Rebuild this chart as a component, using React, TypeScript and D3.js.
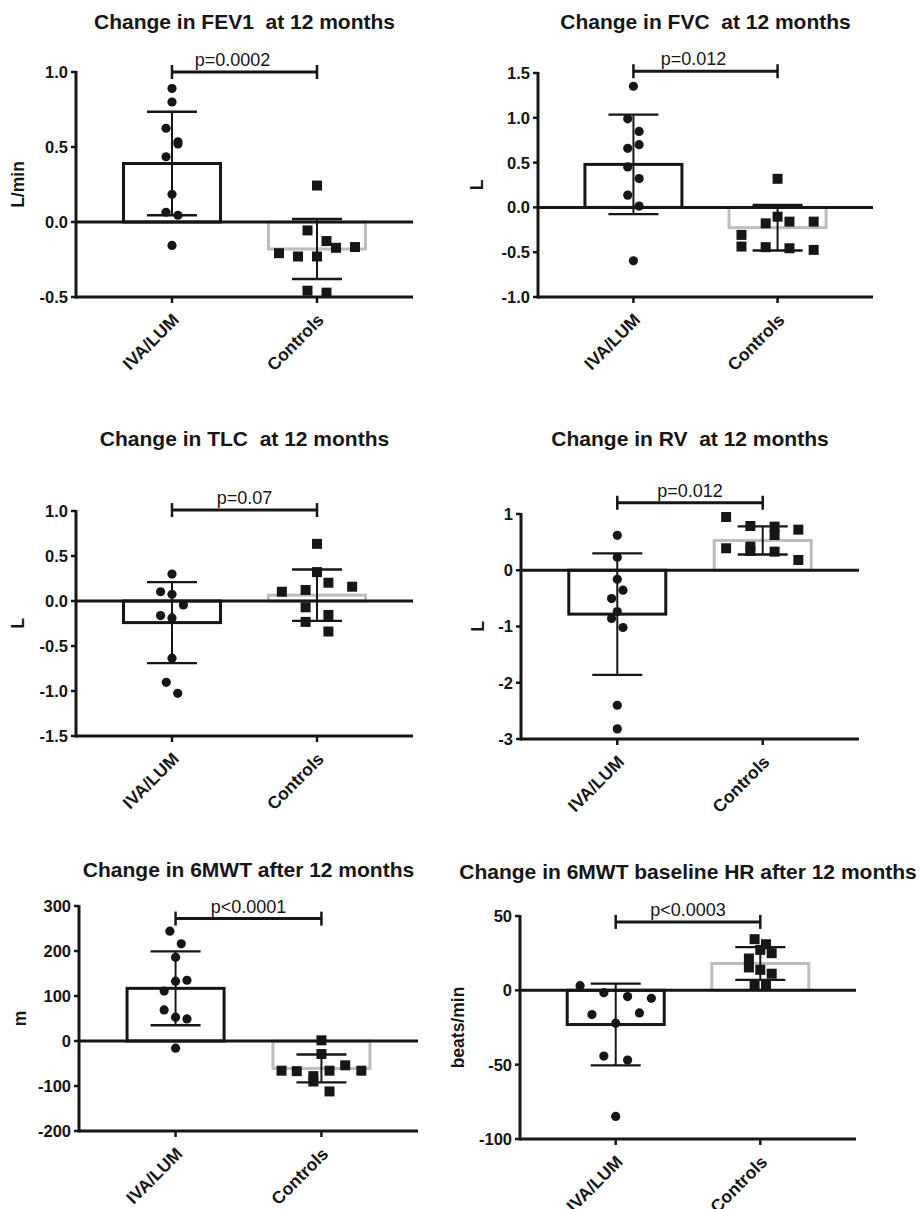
import React from "react";
import * as d3 from "d3";

// ---------- data ----------
const categories = ["IVA/LUM", "Controls"];

const panelTitles = [
  "Change in FEV1  at 12 months",
  "Change in FVC  at 12 months",
  "Change in TLC  at 12 months",
  "Change in RV  at 12 months",
  "Change in 6MWT after 12 months",
  "Change in 6MWT baseline HR after 12 months",
];
const yAxisLabels = ["L/min", "L", "L", "L", "m", "beats/min"];
const pValueLabels = ["p=0.0002", "p=0.012", "p=0.07", "p=0.012", "p<0.0001", "p<0.0003"];
const bracketLevels = [1.0, 1.52, 1.01, 1.2, 272, 46];

const yDomains: [number, number][] = [
  [-0.5, 1.0],
  [-1.0, 1.5],
  [-1.5, 1.0],
  [-3, 1],
  [-200, 300],
  [-100, 50],
];
const yTickValues = [
  [-0.5, 0, 0.5, 1.0],
  [-1.0, -0.5, 0, 0.5, 1.0, 1.5],
  [-1.5, -1.0, -0.5, 0, 0.5, 1.0],
  [-3, -2, -1, 0, 1],
  [-200, -100, 0, 100, 200, 300],
  [-100, -50, 0, 50],
];
const yTickLabels = [
  ["-0.5", "0.0", "0.5", "1.0"],
  ["-1.0", "-0.5", "0.0", "0.5", "1.0", "1.5"],
  ["-1.5", "-1.0", "-0.5", "0.0", "0.5", "1.0"],
  ["-3", "-2", "-1", "0", "1"],
  ["-200", "-100", "0", "100", "200", "300"],
  ["-100", "-50", "0", "50"],
];

// group means and SDs [IVA/LUM, Controls]
const groupMeans = [
  [0.39, -0.18],
  [0.48, -0.226],
  [-0.24, 0.065],
  [-0.78, 0.53],
  [117, -61],
  [-23, 18],
];
const groupSDs = [
  [0.345, 0.2],
  [0.555, 0.255],
  [0.45, 0.285],
  [1.08, 0.25],
  [82, 31],
  [27.5, 11],
];

// individual values
const fev1Iva = [0.89, 0.8, 0.625, 0.535, 0.52, 0.435, 0.185, 0.065, 0.045, -0.156];
const fev1IvaSpread = [0, 0, -0.63, 0.63, 0.63, -0.63, 0, -0.63, 0.63, 0];
const fev1Ctrl = [0.243, -0.056, -0.127, -0.172, -0.167, -0.208, -0.23, -0.23, -0.458, -0.471];
const fev1CtrlSpread = [0, -1, 1, 2, 4, -4, -2, 0, -1, 1];

const fvcIva = [1.352, 0.989, 0.848, 0.7, 0.659, 0.452, 0.322, 0.137, 0.015, -0.596];
const fvcIvaSpread = [0, -0.6, 0.6, 0.6, -0.6, -0.6, 0.6, -0.6, 0.6, 0];
const fvcCtrl = [0.319, -0.104, -0.178, -0.159, -0.159, -0.307, -0.437, -0.444, -0.456, -0.474];
const fvcCtrlSpread = [0, 0, -1.25, 1.25, 3.8, -3.8, -3.8, -1.25, 1.25, 3.8];

const tlcIva = [0.299, 0.103, 0.074, -0.044, -0.162, -0.188, -0.635, -0.904, -1.026];
const tlcIvaSpread = [0, -1.2, 0, 1.2, -1.2, 0, 0, -0.6, 0.6];
const tlcCtrl = [0.635, 0.321, 0.203, 0.159, 0.103, 0.122, -0.07, -0.155, -0.232, -0.339];
const tlcCtrlSpread = [0, 0, 1.2, 3.7, -3.7, -1.2, -1.2, 1.2, -1.2, 1.2];

const rvIva = [0.621, 0.231, -0.16, -0.355, -0.503, -0.734, -0.858, -1.018, -2.4, -2.82];
const rvIvaSpread = [0, 0, 0, 0.6, -0.6, 0, -0.6, 0.6, 0, 0];
const rvCtrl = [0.947, 0.787, 0.775, 0.627, 0.722, 0.391, 0.42, 0.343, 0.331, 0.183];
const rvCtrlSpread = [-3.85, -1.3, 1.25, 1.25, 3.75, -3.85, -1.3, -1.3, 1.25, 3.75];

const mwtIva = [244, 216, 186, 133, 135, 111, 69, 53, 49, -16];
const mwtIvaSpread = [-0.6, 0.6, 0, 0, 1.2, -1.2, -1.2, 0, 1.2, 0];
const mwtCtrl = [1.5, -29, -66, -67, -78, -90, -66, -54, -66, -112];
const mwtCtrlSpread = [0, 0, -4.2, -2.6, -0.85, -0.85, 0.85, 2.5, 4.2, 0.85];

const hrIva = [3.1, -1.6, -4.2, -5.4, -16.3, -15.2, -22.1, -44.2, -46.9, -84.8];
const hrIvaSpread = [-3.75, -1.25, 1.25, 3.75, -2.5, 2.5, 0, -1.25, 1.25, 0];
const hrCtrl = [34.4, 31.0, 27.2, 25.0, 21.4, 15.4, 13.8, 11.2, 3.1, 3.1];
const hrCtrlSpread = [-0.6, 0.6, 0, 1.2, -1.2, -1.2, 0, 1.2, -0.6, 0.6];

const ivaValues = [fev1Iva, fvcIva, tlcIva, rvIva, mwtIva, hrIva];
const ivaSpreads = [fev1IvaSpread, fvcIvaSpread, tlcIvaSpread, rvIvaSpread, mwtIvaSpread, hrIvaSpread];
const ctrlValues = [fev1Ctrl, fvcCtrl, tlcCtrl, rvCtrl, mwtCtrl, hrCtrl];
const ctrlSpreads = [fev1CtrlSpread, fvcCtrlSpread, tlcCtrlSpread, rvCtrlSpread, mwtCtrlSpread, hrCtrlSpread];

// ---------- layout (not data) ----------
const layouts = [
  { axisX: 76, top: 72, bottom: 297, right: 413, titleY: 29, yLabelX: 18, pShift: -12 },
  { axisX: 538, top: 73, bottom: 297, right: 873, titleY: 29, yLabelX: 477, pShift: -12 },
  { axisX: 76, top: 511, bottom: 736, right: 413, titleY: 446, yLabelX: 18, pShift: 0 },
  { axisX: 521, top: 514, bottom: 739, right: 859, titleY: 446, yLabelX: 478, pShift: 0 },
  { axisX: 79, top: 906, bottom: 1131, right: 418, titleY: 877, yLabelX: 20, pShift: 0 },
  { axisX: 520, top: 916, bottom: 1139, right: 856, titleY: 879, yLabelX: 458, pShift: 0 },
];

const FONT = "'Liberation Sans', Arial, Helvetica, sans-serif";
const INK = "#161616";
const GRAY = "#bdbdbd";
const SPREAD_UNIT = 9.5;
const BAR_W = 97;
const CAP_HALF = 25;

function Panel({ i }: { i: number }) {
  const L = layouts[i];
  const y = d3.scaleLinear().domain(yDomains[i]).range([L.bottom, L.top]);
  const x = d3.scalePoint<string>().domain(categories).range([L.axisX, L.right]).padding(0.662);
  const y0 = y(0);
  const cx0 = x(categories[0])!;
  const cx1 = x(categories[1])!;
  const midX = (cx0 + cx1) / 2;
  const by = y(bracketLevels[i]);
  const circle = d3.symbol().type(d3.symbolCircle).size(Math.PI * 4.6 * 4.6);
  const square = d3.symbol().type(d3.symbolSquare).size(10 * 10);

  return (
    <g>
      <text
        x={midX}
        y={L.titleY}
        textAnchor="middle"
        fontFamily={FONT}
        fontWeight="bold"
        fontSize={21}
        fill={INK}
        style={{ whiteSpace: "pre" }}
      >
        {panelTitles[i]}
      </text>
      {/* y label */}
      <text
        transform={`translate(${L.yLabelX},${(L.top + L.bottom) / 2}) rotate(-90)`}
        dy="0.36em"
        textAnchor="middle"
        fontFamily={FONT}
        fontWeight="bold"
        fontSize={17.5}
        fill={INK}
      >
        {yAxisLabels[i]}
      </text>
      {/* bars */}
      {categories.map((c, k) => {
        const m = groupMeans[i][k];
        const yTop = Math.min(y(m), y0);
        const h = Math.abs(y(m) - y0);
        return (
          <rect
            key={c}
            x={x(c)! - BAR_W / 2}
            y={yTop}
            width={BAR_W}
            height={h}
            fill="white"
            stroke={k === 0 ? INK : GRAY}
            strokeWidth={3}
          />
        );
      })}
      {/* y axis */}
      <line x1={L.axisX} x2={L.axisX} y1={L.top - 1} y2={L.bottom + 1.5} stroke={INK} strokeWidth={3} />
      {yTickValues[i].map((v, k) => (
        <g key={k}>
          <line x1={L.axisX - 5} x2={L.axisX} y1={y(v)} y2={y(v)} stroke={INK} strokeWidth={2.5} />
          <text x={L.axisX - 8} y={y(v)} dy="0.36em" textAnchor="end" fontFamily={FONT} fontWeight="bold" fontSize={16.5} fill={INK}>
            {yTickLabels[i][k]}
          </text>
        </g>
      ))}
      {/* bottom axis */}
      <line x1={L.axisX} x2={L.right} y1={L.bottom} y2={L.bottom} stroke={INK} strokeWidth={3} />
      {categories.map((c) => (
        <g key={c}>
          <line x1={x(c)!} x2={x(c)!} y1={L.bottom} y2={L.bottom + 6} stroke={INK} strokeWidth={2.5} />
          <text
            transform={`translate(${x(c)! + 8},${L.bottom + 24}) rotate(-45)`}
            textAnchor="end"
            fontFamily={FONT}
            fontWeight="bold"
            fontSize={17.5}
            fill={INK}
          >
            {c}
          </text>
        </g>
      ))}
      {/* zero line */}
      <line x1={L.axisX} x2={L.right} y1={y0} y2={y0} stroke={INK} strokeWidth={3} />
      {/* error bars */}
      {categories.map((c, k) => {
        const m = groupMeans[i][k];
        const s = groupSDs[i][k];
        const cx = x(c)!;
        return (
          <g key={c} stroke={INK} strokeWidth={2}>
            <line x1={cx} x2={cx} y1={y(m + s)} y2={y(m - s)} />
            <line x1={cx - CAP_HALF} x2={cx + CAP_HALF} y1={y(m + s)} y2={y(m + s)} strokeWidth={2.3} />
            <line x1={cx - CAP_HALF} x2={cx + CAP_HALF} y1={y(m - s)} y2={y(m - s)} strokeWidth={2.3} />
          </g>
        );
      })}
      {/* points */}
      {ivaValues[i].map((v, k) => (
        <path key={"a" + k} d={circle()!} transform={`translate(${cx0 + ivaSpreads[i][k] * SPREAD_UNIT},${y(v)})`} fill={INK} />
      ))}
      {ctrlValues[i].map((v, k) => (
        <path key={"b" + k} d={square()!} transform={`translate(${cx1 + ctrlSpreads[i][k] * SPREAD_UNIT},${y(v)})`} fill={INK} />
      ))}
      {/* significance bracket */}
      <g stroke={INK}>
        <line x1={cx0} x2={cx1} y1={by} y2={by} strokeWidth={3} />
        <line x1={cx0} x2={cx0} y1={by - 7} y2={by + 7} strokeWidth={2.5} />
        <line x1={cx1} x2={cx1} y1={by - 7} y2={by + 7} strokeWidth={2.5} />
      </g>
      <text x={midX + L.pShift} y={by - 6} textAnchor="middle" fontFamily={FONT} fontSize={18} fill={INK}>
        {pValueLabels[i]}
      </text>
    </g>
  );
}

export default function App() {
  return (
    <svg
      width={921}
      height={1209}
      viewBox="0 0 921 1209"
      style={{ position: "absolute", left: 0, top: 0, background: "white" }}
    >
      <rect width={921} height={1209} fill="white" />
      {panelTitles.map((_, i) => (
        <Panel key={i} i={i} />
      ))}
    </svg>
  );
}
